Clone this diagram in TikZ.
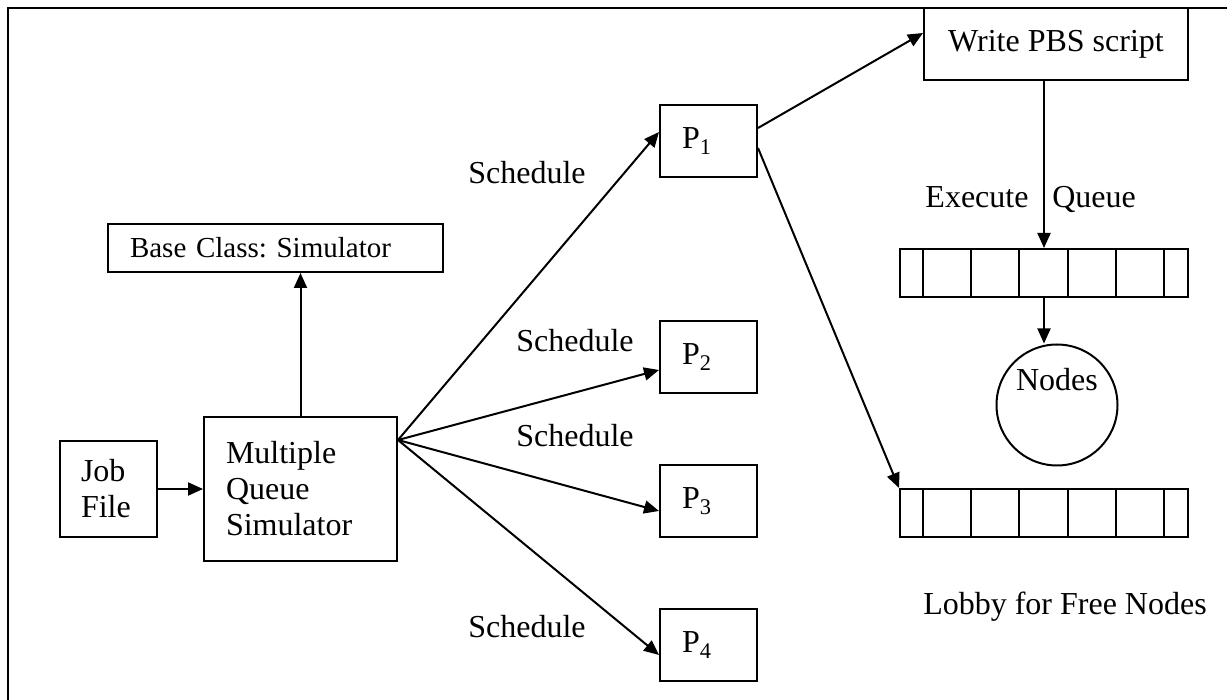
\documentclass[tikz,border=0pt]{standalone}
\usepackage{fontspec}
\setmainfont{Liberation Serif}
\usetikzlibrary{arrows.meta,calc}
\begin{document}
\frenchspacing
\begin{tikzpicture}[x=1pt, y=-1pt, line width=2pt, >={Triangle[length=15pt,width=13pt]},
	font=\fontsize{32}{36}\selectfont,
	box/.style={draw, inner sep=0pt, align=left},
	queue/.style={draw, inner sep=0pt, minimum width=288pt, minimum height=48pt},
	lbl/.style={inner sep=0pt, text depth=0pt}]
	\useasboundingbox (0,0) rectangle (1227,700);
	\draw (8,712) -- (8,8) -- (1240,8);
	\node[box, text width=55pt, inner xsep=21pt, minimum height=96pt] (job) at (108.5,489) {Job\\File};
	\node[box, text width=149pt, inner xsep=22pt, minimum height=144pt] (mqs) at (300.5,489) {Multiple\\Queue\\Simulator};
	\node[box, text width=291pt, inner xsep=22pt, minimum height=48pt, font=\fontsize{29}{33}\selectfont] (base) at (275.5,248) {Base Class: Simulator};
	\node[box, align=center, minimum width=264pt, minimum height=72pt] (wpbs) at (1056,44) {Write PBS script};
	\foreach \n/\y in {1/141,2/357,3/501,4/645}
		\node[box, text width=53pt, inner xsep=22pt, minimum height=72pt] (p\n) at (708.5,\y) {P\textsubscript{\n}};
	\node[queue] (q1) at (1044,273) {};
	\node[queue] (q2) at (1044,513) {};
	\foreach \q in {q1,q2}
		\foreach \i in {0,...,5}
			\draw ($(\q.north west)+(24+48.2*\i,0)$) -- ($(\q.south west)+(24+48.2*\i,0)$);
	\node[draw, circle, minimum size=121pt, inner sep=0pt, text height=22pt, text depth=50pt] (nodes) at (1057,405) {Nodes};
	\node[lbl] (s1) at (527,172) {Schedule};
	\node[lbl] (s2) at (575,340) {Schedule};
	\node[lbl] (s3) at (575,435) {Schedule};
	\node[lbl] (s4) at (527,626) {Schedule};
	\node[lbl] (exec) at (977,197) {Execute};
	\node[lbl] (qlbl) at (1094,197) {Queue};
	\node[lbl] (lobby) at (1065,603) {Lobby for Free Nodes};
	\coordinate (fan) at ([yshift=49pt]mqs.east);
	\draw[->] (job) -- (mqs);
	\draw[->] (mqs.north) -- (mqs.north |- base.south);
	\draw[->] (fan) -- ([yshift=9pt]p1.west);
	\draw[->] (fan) -- ([yshift=-13pt]p2.west);
	\draw[->] (fan) -- ([yshift=-10pt]p3.west);
	\draw[->] (fan) -- ([yshift=-10pt]p4.west);
	\draw[->] ([yshift=13pt]p1.east) -- ([yshift=11pt]wpbs.west);
	\draw[->] ([yshift=-7pt]p1.east) -- (q2.north west);
	\draw[->] (wpbs.south -| q1.north) -- (q1.north);
	\draw[->] (q1.south) -- (q1.south |- nodes.north);
\end{tikzpicture}
\end{document}
